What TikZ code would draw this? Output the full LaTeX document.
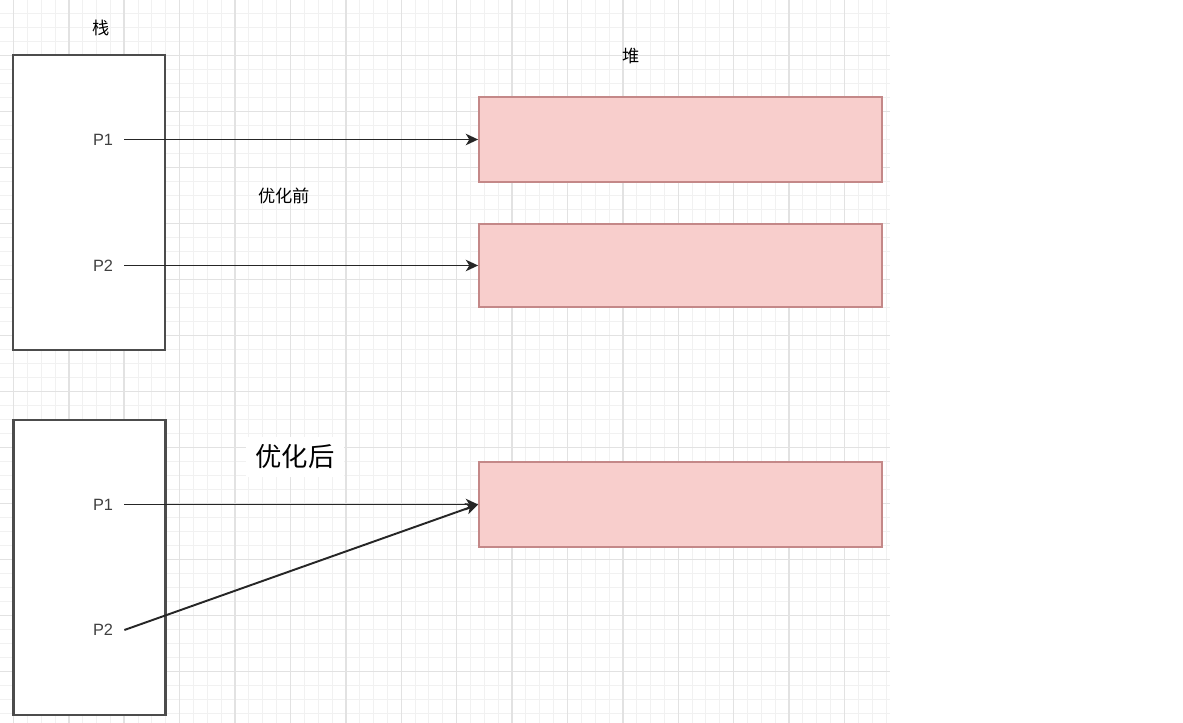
\documentclass[tikz,border=0pt]{standalone}
\usepackage{fontspec}
\setmainfont{Liberation Sans}
\newfontfamily\cjk{Noto Sans CJK SC}
\usetikzlibrary{arrows.meta}

\definecolor{heapfill}{HTML}{F8CECC}
\definecolor{heapline}{HTML}{C48888}
\definecolor{gridminor}{HTML}{F1F1F1}
\definecolor{gridmajor}{HTML}{E2E2E2}
\def\px{0.02cm}

\begin{document}
\begin{tikzpicture}[x=\px,y=-\px]
   \tikzstyle{stackbox}=[draw=black!70,line width=1.2pt,fill=white,minimum width=152*\px,minimum height=295*\px]
   \tikzstyle{heapbox}=[draw=heapline,line width=1pt,fill=heapfill,minimum width=403*\px]
   \tikzstyle{ptr}=[text=black!75,font=\fontsize{9.3}{11}\selectfont,inner xsep=11*\px]
   \tikzstyle{cjklbl}=[font=\cjk\fontsize{9.8}{12}\selectfont]
   \tikzstyle{link}=[draw=black!85,line width=1.1pt,-{Stealth[length=7pt,width=6.5pt,inset=2pt]}]

   \useasboundingbox (0,0) rectangle (1183,723);

   % grid
   \foreach \k in {-1,...,63} \draw [gridminor,line width=0.5pt] ({13.4+13.85*\k},0) -- ({13.4+13.85*\k},723) ;
   \foreach \k in {-3,...,47} \draw [gridminor,line width=0.5pt] (0,{55.7+14*\k}) -- (890,{55.7+14*\k}) ;
   \foreach \k in {0,...,15} \draw [gridmajor,line width=0.8pt] ({13.4+55.4*\k},0) -- ({13.4+55.4*\k},723) ;
   \foreach \k in {-1,...,11} \draw [gridmajor,line width=0.8pt] (0,{55.7+56*\k}) -- (890,{55.7+56*\k}) ;

   \node (stackLbl) [cjklbl] at (101,28) {栈} ;
   \node (heapLbl) [cjklbl] at (631,56) {堆} ;

   % before
   \node (stackA) [stackbox] at (89,202.5) {} ;
   \node (heapA) [heapbox,minimum height=85*\px] at (680.5,139.5) {} ;
   \node (heapB) [heapbox,minimum height=83*\px] at (680.5,265.5) {} ;
   \node (p1a) [ptr] at (103,139.5) {P1} ;
   \node (p2a) [ptr] at (103,265.5) {P2} ;
   \node (before) [cjklbl] at (284,196) {优化前} ;

   \draw [link] (p1a.east) -- (heapA.west) ;
   \draw [link] (p2a.east) -- (heapB.west) ;

   % after
   \node (stackB) [stackbox] at (89.5,567.5) {} ;
   \node (heapC) [heapbox,minimum height=85*\px] at (680.5,504.5) {} ;
   \node (p1b) [ptr] at (103,504.5) {P1} ;
   \node (p2b) [ptr] at (103,630) {P2} ;
   \node (after) [fill=white,inner xsep=9*\px,inner ysep=8*\px,font=\cjk\fontsize{15}{18}\selectfont] at (295,457) {优化后} ;

   \draw [link] (p1b.east) -- (heapC.west) ;
   \draw [link] (p2b.east) -- (heapC.west) ;

\end{tikzpicture}
\end{document}
